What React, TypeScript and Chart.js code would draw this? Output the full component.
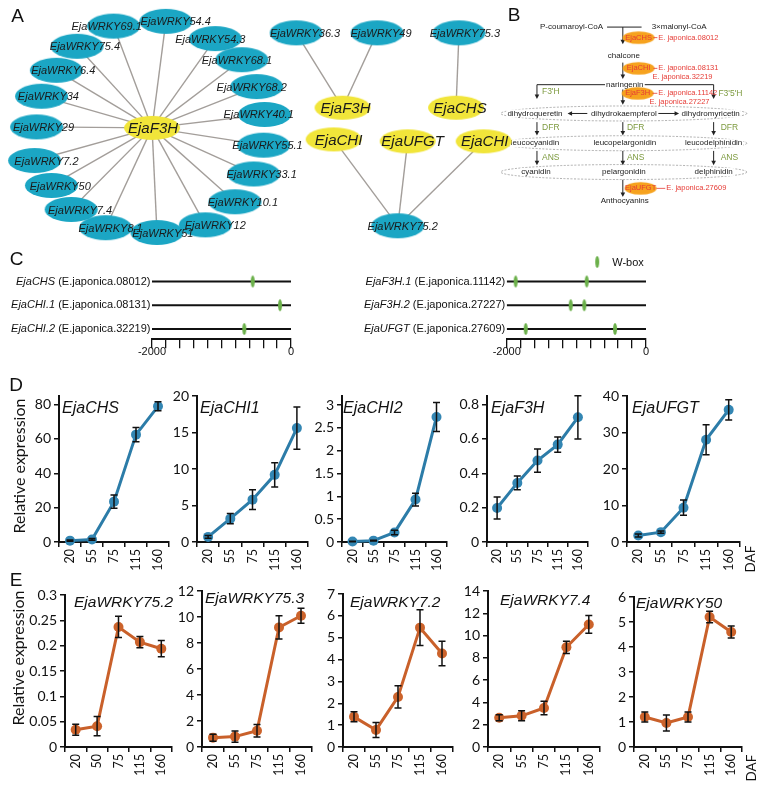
import React, { useEffect, useRef } from "react";
import { Chart, registerables } from "chart.js";
Chart.register(...registerables);

const SANS = "'Liberation Sans', Arial, sans-serif";
const CAL = "Lato, 'Open Sans', sans-serif";

// ================= DATA =================
// Panel A network: [label, x, y, labelDx]
const hubNode: [string, number, number, number] = ["EjaF3H", 149, 128, 1];
const hubSpokes: [string, number, number, number][] = [
  ["EjaWRKY69.1", 110, 22, -7],
  ["EjaWRKY54.4", 163, 17, 10],
  ["EjaWRKY54.3", 213, 35, -5],
  ["EjaWRKY75.4", 73, 43, 8],
  ["EjaWRKY68.1", 240, 57, -5],
  ["EjaWRKY6.4", 52, 68, 7],
  ["EjaWRKY68.2", 255, 85, -5],
  ["EjaWRKY34", 37, 95, 7],
  ["EjaWRKY40.1", 263, 114, -6],
  ["EjaWRKY29", 32, 127, 7],
  ["EjaWRKY55.1", 262, 146, 4],
  ["EjaWRKY7.2", 30, 162, 12],
  ["EjaWRKY33.1", 252, 176, 8],
  ["EjaWRKY50", 47, 188, 9],
  ["EjaWRKY10.1", 233, 205, 8],
  ["EjaWRKY7.4", 67, 213, 9],
  ["EjaWRKY12", 203, 229, 10],
  ["EjaWRKY8.1", 102, 232, 5],
  ["EjaWRKY51", 154, 237, 6],
];
const sideTfs: [string, number, number, number][] = [
  ["EjaWRKY36.3", 295, 29, 9],
  ["EjaWRKY49", 377, 29, 4],
  ["EjaWRKY75.3", 460, 29, 6],
  ["EjaWRKY75.2", 398, 230, 5],
];
const sideGenes: [string, number, number, number][] = [
  ["EjaF3H", 342, 107, 3],
  ["EjaCHS", 457, 107, 4],
  ["EjaCHI", 333, 140, 5],
  ["EjaUFGT", 408, 142, 5],
  ["EjaCHI", 485, 142, 1],
];
const sideEdges: [number, number][] = [[0, 0], [1, 0], [2, 1], [3, 2], [3, 3], [3, 4]];

// Panel B pathway
const pathCompounds: [string, number, number][] = [
  ["P-coumaroyl-CoA", 574, 23], ["3×malonyl-CoA", 683, 23], ["chalcone", 627, 53],
  ["naringenin", 628, 83], ["dihydroqueretin", 537, 113], ["dihydrokaempferol", 627, 113],
  ["dihydromyricetin", 715, 113], ["leucocyanidin", 537, 144], ["leucopelargonidin", 628, 144],
  ["leucodelphinidin", 718, 144], ["cyanidin", 538, 174], ["pelargonidin", 627, 174],
  ["delphinidin", 718, 174], ["Anthocyanins", 628, 204],
];
const pathEnzymes: [string, number, number][] = [
  ["F3'H", 553, 90], ["F3'5'H", 735, 92],
  ["DFR", 553, 128], ["DFR", 639, 128], ["DFR", 734, 128],
  ["ANS", 553, 159], ["ANS", 639, 159], ["ANS", 734, 159],
];
const pathGenes: [string, number, number][] = [
  ["EjaCHS", 642, 34], ["EjaCHI", 642, 66], ["EjaF3H", 641, 92], ["EjaUFGT", 644, 191],
];
const pathIds: [string, number, number, number][] = [
  ["E. japonica.08012", 662, 34, 657], ["E. japonica.08131", 662, 66, 657],
  ["E. japonica.32219", 656, 75, 0], ["E. japonica.11142", 662, 92, 656],
  ["E. japonica.27227", 653, 101, 0], ["E. japonica.27609", 670, 191, 660],
];
const pathArrows: [number, number, number, number][] = [
  [626, 23, 626, 41], [626, 60, 626, 77], [539, 83, 539, 98], [718, 83, 718, 98],
  [626, 88, 626, 104], [590, 113, 570, 113], [662, 113, 683, 113],
  [539, 122, 539, 136], [626, 122, 626, 136], [718, 122, 718, 136],
  [539, 152, 539, 167], [626, 152, 626, 167], [718, 152, 718, 167],
  [626, 182, 626, 200],
];
const pathLines: [number, number, number, number][] = [
  [610, 23, 645, 23], [539, 83, 608, 83], [648, 83, 718, 83],
];
const pathRows: [number, number, number, number][] = [
  [627, 113, 123, 7.5], [627, 144, 123, 7.5], [627, 174, 123, 7.5],
];

// Panel C promoters
const cLeftGenes: [string, string][] = [
  ["EjaCHS", " (E.japonica.08012)"], ["EjaCHI.1", " (E.japonica.08131)"], ["EjaCHI.2", " (E.japonica.32219)"],
];
const cLeftWbox: number[][] = [[-551], [-158], [-672]];
const cRightGenes: [string, string][] = [
  ["EjaF3H.1", " (E.japonica.11142)"], ["EjaF3H.2", " (E.japonica.27227)"], ["EjaUFGT", " (E.japonica.27609)"],
];
const cRightWbox: number[][] = [[-1871, -851], [-1081, -886], [-1727, -445]];
const cTickStep = 200;

// Panel D (DAF)
const dafLabels = ["20", "55", "75", "115", "160"];
const dafLabelsE1 = ["20", "50", "75", "115", "160"];
const chsMean = [0.8, 1.5, 23.5, 62.5, 79];
const chsErr = [0.3, 0.5, 3.8, 4.1, 2.6];
const chi1Mean = [0.7, 3.2, 5.8, 9.2, 15.6];
const chi1Err = [0.2, 0.7, 1.35, 1.65, 2.9];
const chi2Mean = [0.01, 0.03, 0.21, 0.93, 2.74];
const chi2Err = [0.005, 0.01, 0.05, 0.14, 0.32];
const f3hMean = [0.198, 0.344, 0.474, 0.567, 0.726];
const f3hErr = [0.064, 0.04, 0.068, 0.044, 0.126];
const ufgtMean = [1.8, 2.7, 9.4, 28, 36.2];
const ufgtErr = [0.4, 0.3, 2.1, 4.1, 2.75];

// Panel E
const w752Mean = [0.034, 0.041, 0.237, 0.207, 0.194];
const w752Err = [0.011, 0.019, 0.021, 0.011, 0.016];
const w753Mean = [0.72, 0.8, 1.25, 9.2, 10.1];
const w753Err = [0.27, 0.43, 0.48, 0.9, 0.58];
const w72Mean = [1.38, 0.78, 2.29, 5.46, 4.28];
const w72Err = [0.23, 0.34, 0.51, 0.82, 0.56];
const w74Mean = [2.63, 2.8, 3.5, 8.95, 11.0];
const w74Err = [0.27, 0.45, 0.6, 0.55, 0.8];
const w50Mean = [1.2, 0.96, 1.2, 5.2, 4.6];
const w50Err = [0.2, 0.32, 0.2, 0.23, 0.24];

// ================= STYLE / LAYOUT =================
const BLUE_NODE = "#1ba6c4";
const YELLOW_NODE = "#f1e53a";
const ORANGE_NODE = "#f6a21e";
const EDGE = "#a39e9a";
const RED = "#e63b35";
const OLIVE = "#7d9a3f";
const WBOX = "#6bb04a";
const D_LINE = "#2c7ca8";
const D_POINT = "#3386b3";
const E_LINE = "#c9602a";
const E_POINT = "#cc632b";

function ellipseCanvas(rx: number, ry: number, fill: string) {
  const c = document.createElement("canvas");
  c.width = Math.ceil(rx * 2) + 2;
  c.height = Math.ceil(ry * 2) + 2;
  const g = c.getContext("2d")!;
  g.fillStyle = fill;
  g.beginPath();
  g.ellipse(c.width / 2, c.height / 2, rx, ry, 0, 0, Math.PI * 2);
  g.fill();
  return c;
}

function drawArrow(ctx: CanvasRenderingContext2D, x1: number, y1: number, x2: number, y2: number) {
  const a = Math.atan2(y2 - y1, x2 - x1);
  const L = 4.5, W = 2.3;
  ctx.beginPath();
  ctx.moveTo(x1, y1);
  ctx.lineTo(x2 - L * 0.6 * Math.cos(a), y2 - L * 0.6 * Math.sin(a));
  ctx.stroke();
  ctx.beginPath();
  ctx.moveTo(x2, y2);
  ctx.lineTo(x2 - L * Math.cos(a) + W * Math.sin(a), y2 - L * Math.sin(a) - W * Math.cos(a));
  ctx.lineTo(x2 - L * Math.cos(a) - W * Math.sin(a), y2 - L * Math.sin(a) + W * Math.cos(a));
  ctx.closePath();
  ctx.fill();
}

function letter(ctx: CanvasRenderingContext2D, t: string, x: number, y: number) {
  ctx.save();
  ctx.font = `19px ${SANS}`;
  ctx.fillStyle = "#111";
  ctx.textAlign = "center";
  ctx.textBaseline = "middle";
  ctx.fillText(t, x, y);
  ctx.restore();
}

// ================= TOP (A + B) =================
function makeTop() {
  const blueImg = ellipseCanvas(26.5, 12.5, BLUE_NODE);
  const yellowImg = ellipseCanvas(28, 12, YELLOW_NODE);
  const orangeImg = ellipseCanvas(16, 6.3, ORANGE_NODE);
  const pt = (n: [string, number, number, number] | [string, number, number]) => ({ x: n[1], y: n[2] });
  const datasets: any[] = [];
  hubSpokes.forEach((s) => datasets.push({
    data: [pt(hubNode), pt(s)], showLine: true, borderColor: EDGE, borderWidth: 1.4, pointRadius: 0, order: 10,
  }));
  sideEdges.forEach(([t, g]) => datasets.push({
    data: [pt(sideTfs[t]), pt(sideGenes[g])], showLine: true, borderColor: EDGE, borderWidth: 1.4, pointRadius: 0, order: 10,
  }));
  datasets.push({ data: [...hubSpokes, ...sideTfs].map(pt), pointStyle: blueImg, pointRadius: 3, order: 5 });
  datasets.push({ data: [hubNode, ...sideGenes].map(pt), pointStyle: yellowImg, pointRadius: 3, order: 4 });
  datasets.push({ data: pathGenes.map(pt), pointStyle: orangeImg, pointRadius: 3, order: 4 });

  const plugin = {
    id: "topDecor",
    beforeDatasetsDraw(chart: any) {
      const { ctx } = chart;
      const X = (v: number) => chart.scales.x.getPixelForValue(v);
      const Y = (v: number) => chart.scales.y.getPixelForValue(v);
      ctx.save();
      // dashed ellipses
      ctx.strokeStyle = "#9a9a9a";
      ctx.lineWidth = 0.8;
      ctx.setLineDash([2, 1.5]);
      pathRows.forEach(([cx, cy, rx, ry]) => {
        ctx.beginPath();
        ctx.ellipse(X(cx), Y(cy), rx, ry, 0, 0, Math.PI * 2);
        ctx.stroke();
      });
      ctx.setLineDash([]);
      // lines & arrows
      ctx.strokeStyle = "#222";
      ctx.fillStyle = "#222";
      ctx.lineWidth = 1;
      pathLines.forEach(([a, b, c, d]) => {
        ctx.beginPath(); ctx.moveTo(X(a), Y(b)); ctx.lineTo(X(c), Y(d)); ctx.stroke();
      });
      pathArrows.forEach(([a, b, c, d]) => drawArrow(ctx, X(a), Y(b), X(c), Y(d)));
      // compound texts
      ctx.font = `8px ${SANS}`;
      ctx.textAlign = "center";
      ctx.textBaseline = "middle";
      pathCompounds.forEach(([t, x, y]) => {
        ctx.fillStyle = "#fff";
        const w = ctx.measureText(t).width;
        ctx.fillRect(X(x) - w / 2 - 1, Y(y) - 4, w + 2, 8);
        ctx.fillStyle = "#222";
        ctx.fillText(t, X(x), Y(y));
      });
      ctx.fillStyle = OLIVE;
      ctx.font = `8.5px ${SANS}`;
      pathEnzymes.forEach(([t, x, y]) => ctx.fillText(t, X(x), Y(y)));
      ctx.restore();
    },
    afterDatasetsDraw(chart: any) {
      const { ctx } = chart;
      const X = (v: number) => chart.scales.x.getPixelForValue(v);
      const Y = (v: number) => chart.scales.y.getPixelForValue(v);
      ctx.save();
      ctx.textAlign = "center";
      ctx.textBaseline = "middle";
      ctx.fillStyle = "#1a1a1a";
      ctx.font = `italic 11px ${SANS}`;
      [...hubSpokes, ...sideTfs].forEach(([t, x, y, dx]) => ctx.fillText(t, X(x + dx), Y(y + 1)));
      ctx.font = `italic 15px ${SANS}`;
      [hubNode, ...sideGenes].forEach(([t, x, y, dx]) => ctx.fillText(t, X(x + dx), Y(y + 1)));
      // pathway gene labels
      ctx.font = `7.5px ${SANS}`;
      ctx.fillStyle = RED;
      pathGenes.forEach(([t, x, y]) => ctx.fillText(t, X(x), Y(y)));
      ctx.textAlign = "left";
      ctx.strokeStyle = RED;
      ctx.lineWidth = 0.8;
      pathIds.forEach(([t, x, y, dash]) => {
        if (dash) {
          ctx.beginPath(); ctx.moveTo(X(dash), Y(y)); ctx.lineTo(X(x - 1), Y(y)); ctx.stroke();
        }
        ctx.fillText(t, X(x), Y(y));
      });
      ctx.restore();
      letter(ctx, "A", 17.5, 16.5);
      letter(ctx, "B", 514, 16);
    },
  };

  return {
    type: "scatter",
    data: { datasets },
    options: {
      animation: false,
      responsive: false,
      events: [],
      layout: { padding: 0 },
      plugins: { legend: { display: false }, tooltip: { enabled: false } },
      scales: {
        x: { type: "linear", min: 0, max: 766, display: false },
        y: { type: "linear", min: 0, max: 250, reverse: true, display: false },
      },
    },
    plugins: [plugin],
  };
}

// ================= C (promoters) =================
function makePromoter(genes: [string, string][], marks: number[][], padL: number, padR: number, withLegend: boolean, withLetter: boolean, canvasH: number) {
  const markImg = ellipseCanvas(2, 6, WBOX);
  const datasets: any[] = [];
  genes.forEach((_, i) => datasets.push({
    data: [{ x: -2000, y: i + 1 }, { x: 0, y: i + 1 }], showLine: true, borderColor: "#111", borderWidth: 2, pointRadius: 0, order: 5,
  }));
  datasets.push({
    data: marks.flatMap((m, i) => m.map((v) => ({ x: v, y: i + 1 }))), pointStyle: markImg, pointRadius: 3, order: 1,
  });
  const padTop = 17.25, areaBottom = 89.2;
  const plugin = {
    id: "promDecor",
    afterDatasetsDraw(chart: any) {
      const { ctx, chartArea } = chart;
      ctx.save();
      ctx.textBaseline = "middle";
      ctx.textAlign = "right";
      ctx.fillStyle = "#111";
      genes.forEach(([it, rest], i) => {
        const y = chart.scales.y.getPixelForValue(i + 1);
        const xEnd = chartArea.left - 1.5;
        ctx.font = `11px ${SANS}`;
        const w = ctx.measureText(rest).width;
        ctx.fillText(rest, xEnd, y);
        ctx.font = `italic 11px ${SANS}`;
        ctx.fillText(it, xEnd - w, y);
      });
      if (withLegend) {
        const lx = chartArea.left + 90.5, ly = 12;
        ctx.drawImage(markImg, lx - markImg.width / 2, ly - markImg.height / 2);
        ctx.textAlign = "left";
        ctx.font = `11px ${SANS}`;
        ctx.fillText("W-box", lx + 15, ly + 1);
      }
      ctx.restore();
      if (withLetter) letter(ctx, "C", 16.5, 10);
    },
  };
  return {
    type: "scatter",
    data: { datasets },
    options: {
      animation: false,
      responsive: false,
      events: [],
      layout: { padding: { left: padL, right: padR, top: padTop, bottom: 0 } },
      plugins: { legend: { display: false }, tooltip: { enabled: false } },
      scales: {
        x: {
          type: "linear", min: -2000, max: 0,
          ticks: {
            stepSize: cTickStep, autoSkip: false, maxRotation: 0, padding: -3, color: "#111",
            font: { family: SANS, size: 11 },
            callback: (v: number) => (v === -2000 || v === 0 ? String(v) : ""),
          },
          grid: { drawOnChartArea: false, tickLength: 9, color: "#111", lineWidth: 1.3 },
          border: { color: "#111", width: 2 },
          afterFit: (s: any) => { s.height = canvasH - areaBottom; s.paddingLeft = 0; s.paddingRight = 0; s.paddingTop = 0; s.paddingBottom = 0; },
        },
        y: { type: "linear", min: 0.4, max: 3.43, reverse: true, display: false },
      },
    },
    plugins: [plugin],
  };
}

// ================= D / E expression =================
type ExprOpt = {
  labels: string[]; mean: number[]; err: number[]; max: number; step: number;
  line: string; point: string; title: string; titleDx: number; titleBase: number; titleSize: number;
  left: number; top: number; yw: number; pt: number; pr: number; xh: number;
  texts: { t: string; x: number; y: number; size: number; rot: boolean }[];
};

function makeExpr(o: ExprOpt) {
  const plugin = {
    id: "exprDecor",
    afterDatasetsDraw(chart: any) {
      const { ctx, chartArea } = chart;
      const ys = chart.scales.y;
      const meta = chart.getDatasetMeta(0);
      ctx.save();
      ctx.strokeStyle = "#111";
      ctx.lineWidth = 1.5;
      meta.data.forEach((p: any, i: number) => {
        const yt = ys.getPixelForValue(o.mean[i] + o.err[i]);
        const yb = ys.getPixelForValue(o.mean[i] - o.err[i]);
        ctx.beginPath();
        ctx.moveTo(p.x, yt); ctx.lineTo(p.x, yb);
        ctx.moveTo(p.x - 3.5, yt); ctx.lineTo(p.x + 3.5, yt);
        ctx.moveTo(p.x - 3.5, yb); ctx.lineTo(p.x + 3.5, yb);
        ctx.stroke();
      });
      ctx.fillStyle = "#111";
      ctx.font = `italic ${o.titleSize}px ${SANS}`;
      ctx.textAlign = "left";
      ctx.textBaseline = "alphabetic";
      ctx.fillText(o.title, chartArea.left + o.titleDx, o.titleBase - o.top);
      o.texts.forEach((tx) => {
        ctx.save();
        ctx.translate(tx.x - o.left, tx.y - o.top);
        if (tx.rot) ctx.rotate(-Math.PI / 2);
        ctx.font = `${tx.size}px ${tx.t.length === 1 ? SANS : CAL}`;
        ctx.textAlign = "center";
        ctx.textBaseline = "middle";
        ctx.fillText(tx.t, 0, 0);
        ctx.restore();
      });
      ctx.restore();
    },
  };
  return {
    type: "line",
    data: {
      labels: o.labels,
      datasets: [{
        data: o.mean, borderColor: o.line, backgroundColor: o.point, pointBackgroundColor: o.point,
        pointBorderColor: o.point, pointBorderWidth: 0, borderWidth: 3, pointRadius: 5, tension: 0, clip: false,
      }],
    },
    options: {
      animation: false,
      responsive: false,
      events: [],
      layout: { padding: { left: 0, top: o.pt, right: o.pr, bottom: 0 } },
      plugins: { legend: { display: false }, tooltip: { enabled: false } },
      scales: {
        x: {
          offset: true,
          grid: { offset: true, drawOnChartArea: false, tickLength: 5, color: "#111", lineWidth: 1.5 },
          border: { color: "#111", width: 2 },
          ticks: { minRotation: 90, maxRotation: 90, autoSkip: false, padding: 2, color: "#111", font: { family: CAL, size: 12.5 } },
          afterFit: (s: any) => { s.height = o.xh; s.paddingLeft = 0; s.paddingRight = 0; s.paddingTop = 0; s.paddingBottom = 0; },
        },
        y: {
          min: 0, max: o.max,
          ticks: {
            stepSize: o.step, includeBounds: false, padding: 3, color: "#111", font: { family: CAL, size: 14 },
            callback: (v: number) => String(+Number(v).toFixed(3)),
          },
          grid: { drawOnChartArea: false, tickLength: 5, color: "#111", lineWidth: 1.5 },
          border: { color: "#111", width: 2 },
          afterFit: (s: any) => { s.width = o.yw; s.paddingTop = 0; s.paddingBottom = 0; },
        },
      },
    },
    plugins: [plugin],
  };
}

type Spec = { left: number; top: number; width: number; height: number; make: () => any };

function buildSpecs(): Spec[] {
  const specs: Spec[] = [];
  specs.push({ left: 0, top: 0, width: 766, height: 250, make: makeTop });
  specs.push({ left: 0, top: 250, width: 300, height: 122, make: () => makePromoter(cLeftGenes, cLeftWbox, 152, 9, false, true, 122) });
  specs.push({ left: 360, top: 250, width: 320, height: 122, make: () => makePromoter(cRightGenes, cRightWbox, 146.7, 34, true, false, 122) });

  const PT = 24, XH = 40;
  const dRow = [
    { title: "EjaCHS", mean: chsMean, err: chsErr, max: 85, step: 20, axisX: 59, right: 169, dx: 3 },
    { title: "EjaCHI1", mean: chi1Mean, err: chi1Err, max: 20, step: 5, axisX: 197, right: 308, dx: 3 },
    { title: "EjaCHI2", mean: chi2Mean, err: chi2Err, max: 3.2, step: 0.5, axisX: 342, right: 447, dx: 1 },
    { title: "EjaF3H", mean: f3hMean, err: f3hErr, max: 0.85, step: 0.2, axisX: 487, right: 588, dx: 4 },
    { title: "EjaUFGT", mean: ufgtMean, err: ufgtErr, max: 40, step: 10, axisX: 627, right: 740, dx: 5 },
  ];
  dRow.forEach((c, i) => {
    const top = 396, bottom = 542;
    const left = i === 0 ? 0 : c.axisX - 45;
    const yw = c.axisX - left;
    const pr = i === 4 ? 20 : 6;
    const width = yw + (c.right - c.axisX) + pr;
    const ct = top - PT;
    const height = PT + (bottom - top) + XH;
    const texts: ExprOpt["texts"] = [];
    if (i === 0) {
      texts.push({ t: "Relative expression", x: 20, y: 466, size: 16, rot: true });
      texts.push({ t: "D", x: 16, y: 386, size: 19, rot: false });
    }
    if (i === 4) texts.push({ t: "DAF", x: 751, y: 559, size: 13.5, rot: true });
    specs.push({
      left, top: ct, width, height,
      make: () => makeExpr({
        labels: dafLabels, mean: c.mean, err: c.err, max: c.max, step: c.step, line: D_LINE, point: D_POINT,
        title: c.title, titleDx: c.dx, titleBase: 413, titleSize: 16, left, top: ct, yw, pt: PT, pr, xh: XH, texts,
      }),
    });
  });

  const eRow = [
    { title: "EjaWRKY75.2", labels: dafLabelsE1, mean: w752Mean, err: w752Err, max: 0.3, step: 0.05, axisX: 65, right: 172, top: 595, dx: 9, base: 607 },
    { title: "EjaWRKY75.3", labels: dafLabels, mean: w753Mean, err: w753Err, max: 12, step: 2, axisX: 202, right: 312, top: 591, dx: 3, base: 603 },
    { title: "EjaWRKY7.2", labels: dafLabels, mean: w72Mean, err: w72Err, max: 7, step: 1, axisX: 343, right: 453, top: 594, dx: 7, base: 607 },
    { title: "EjaWRKY7.4", labels: dafLabels, mean: w74Mean, err: w74Err, max: 14, step: 2, axisX: 488, right: 600, top: 591, dx: 12, base: 605 },
    { title: "EjaWRKY50", labels: dafLabels, mean: w50Mean, err: w50Err, max: 6, step: 1, axisX: 634, right: 742, top: 597, dx: 2, base: 608 },
  ];
  eRow.forEach((c, i) => {
    const bottom = 747;
    const left = i === 0 ? 0 : c.axisX - 45;
    const yw = c.axisX - left;
    const pr = i === 4 ? 20 : 6;
    const width = yw + (c.right - c.axisX) + pr;
    const ct = c.top - PT;
    const height = PT + (bottom - c.top) + XH;
    const texts: ExprOpt["texts"] = [];
    if (i === 0) {
      texts.push({ t: "Relative expression", x: 19, y: 658, size: 16, rot: true });
      texts.push({ t: "E", x: 16, y: 581, size: 19, rot: false });
    }
    if (i === 4) texts.push({ t: "DAF", x: 752, y: 768, size: 13.5, rot: true });
    specs.push({
      left, top: ct, width, height,
      make: () => makeExpr({
        labels: c.labels, mean: c.mean, err: c.err, max: c.max, step: c.step, line: E_LINE, point: E_POINT,
        title: c.title, titleDx: c.dx, titleBase: c.base, titleSize: 15.5, left, top: ct, yw, pt: PT, pr, xh: XH, texts,
      }),
    });
  });
  return specs;
}

const SPECS = buildSpecs();

export default function App() {
  const refs = useRef<(HTMLCanvasElement | null)[]>([]);
  useEffect(() => {
    const charts = SPECS.map((s, i) => new Chart(refs.current[i] as HTMLCanvasElement, s.make()));
    return () => charts.forEach((c) => c.destroy());
  }, []);
  return (
    <div style={{ position: "absolute", left: 0, top: 0, width: 766, height: 785, background: "#fff", overflow: "hidden" }}>
      {SPECS.map((s, i) => (
        <canvas
          key={i}
          ref={(el) => { refs.current[i] = el; }}
          width={s.width}
          height={s.height}
          style={{ position: "absolute", left: s.left, top: s.top, width: s.width, height: s.height }}
        />
      ))}
    </div>
  );
}
